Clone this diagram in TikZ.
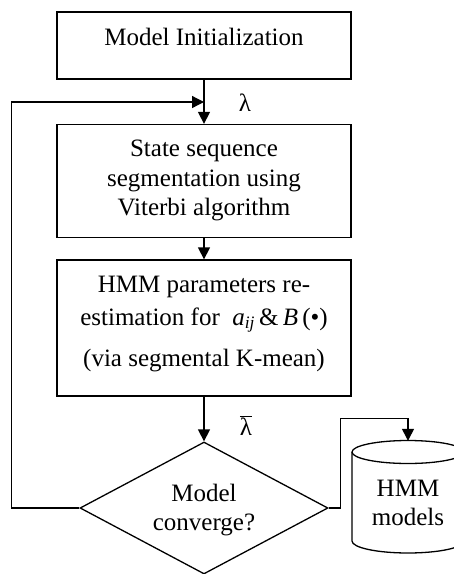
\documentclass[tikz,border=0pt]{standalone}
\usepackage{fontspec}
\setmainfont{Liberation Serif}
\usetikzlibrary{arrows.meta,shapes.geometric}
\begin{document}
\begin{tikzpicture}[x=1pt,y=-1pt,
  every node/.style={font=\fontsize{25}{30}\selectfont},
  box/.style={draw, line width=1.3pt, minimum width=294pt, inner sep=0pt},
  txt/.style={anchor=base, inner sep=0pt},
  flow/.style={line width=1.3pt, -{Triangle[width=12pt,length=12pt]}},
  wire/.style={line width=1.3pt}]
\useasboundingbox (0,0) rectangle (454,574);

% process boxes
\node[box, minimum height=67pt]  (init)    at (204,45.5) {};
\node[box, minimum height=113pt] (viterbi) at (204,181)  {};
\node[box, minimum height=136pt] (reest)   at (204,328)  {};
\node[draw, diamond, line width=1.3pt, minimum width=248pt, minimum height=132pt, inner sep=0pt] (conv) at (204,508) {};

% storage cylinder
\node[minimum width=112pt, minimum height=112pt, inner sep=0pt] (db) at (408,497) {};
\draw[wire] (408,452) ellipse [x radius=56pt, y radius=11.5pt];
\draw[wire] (352,452) -- (352,541) arc[start angle=180, end angle=360, x radius=56pt, y radius=12pt] -- (464,452);

% texts
\node[txt] (t1)  at (204,45)    {Model Initialization};
\node[txt] (t2a) at (204,156.5) {State sequence};
\node[txt] (t2b) at (204,186)   {segmentation using};
\node[txt] (t2c) at (204,215)   {Viterbi algorithm};
\node[txt] (t3a) at (204,292.5) {HMM parameters re-};
\node[txt] (t3b) at (204,325)   {estimation for \ \textit{a}\textsubscript{\textit{ij}}\,\&\,\textit{B}\,(•)};
\node[txt] (t3c) at (204,366)   {(via segmental K-mean)};
\node[txt] (t4a) at (204,501.5) {Model};
\node[txt] (t4b) at (204,530)   {converge?};
\node[txt] (t5a) at (408,496.5) {HMM};
\node[txt] (t5b) at (408,525)   {models};
\node[txt] (lam)  at (245,111) {λ};
\node[txt] (lamb) at (246,435) {$\overline{\hbox{λ}}$};

% connectors
\coordinate (fb) at (204,102);
\draw[flow] (init) -- (viterbi);
\draw[flow] (viterbi) -- (reest);
\draw[flow] (reest) -- (conv);
\draw[flow] (conv.west) -- ++(-68,0) |- (fb);
\draw[flow] (conv.east) -- ++(12,0) |- ([yshift=22pt]db.north) -- (db.north);
\end{tikzpicture}
\end{document}
